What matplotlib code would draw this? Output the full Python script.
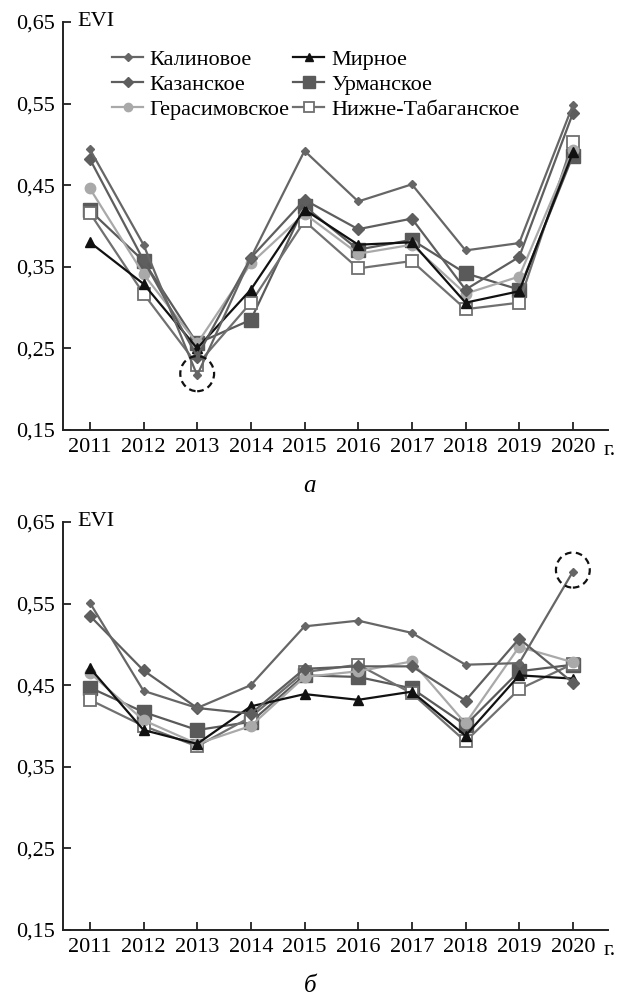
import matplotlib
matplotlib.use("Agg")
import matplotlib.pyplot as plt
from matplotlib.patches import Ellipse

plt.rcParams['font.family'] = ['Liberation Serif', 'DejaVu Serif']

years = [2011, 2012, 2013, 2014, 2015, 2016, 2017, 2018, 2019, 2020]
# legend order, row by row as in the figure
names = ["Калиновое", "Мирное", "Казанское", "Урманское",
         "Герасимовское", "Нижне-Табаганское"]

# panel a
evi_a = {
    "Калиновое":         [0.494, 0.377, 0.217, 0.361, 0.492, 0.430, 0.451, 0.370, 0.379, 0.548],
    "Мирное":            [0.380, 0.329, 0.250, 0.322, 0.420, 0.377, 0.380, 0.306, 0.320, 0.490],
    "Казанское":         [0.482, 0.358, 0.240, 0.361, 0.432, 0.396, 0.409, 0.322, 0.362, 0.538],
    "Урманское":         [0.419, 0.357, 0.256, 0.285, 0.424, 0.371, 0.383, 0.342, 0.322, 0.486],
    "Герасимовское":     [0.446, 0.341, 0.256, 0.354, 0.415, 0.366, 0.377, 0.317, 0.338, 0.493],
    "Нижне-Табаганское": [0.416, 0.317, 0.230, 0.306, 0.406, 0.348, 0.357, 0.298, 0.306, 0.503],
}
# panel b
evi_b = {
    "Калиновое":         [0.551, 0.443, 0.422, 0.450, 0.522, 0.529, 0.514, 0.475, 0.477, 0.589],
    "Мирное":            [0.471, 0.395, 0.378, 0.424, 0.439, 0.432, 0.442, 0.388, 0.462, 0.458],
    "Казанское":         [0.535, 0.468, 0.422, 0.415, 0.470, 0.473, 0.473, 0.431, 0.507, 0.453],
    "Урманское":         [0.447, 0.417, 0.395, 0.405, 0.462, 0.460, 0.446, 0.401, 0.467, 0.475],
    "Герасимовское":     [0.465, 0.407, 0.378, 0.400, 0.460, 0.467, 0.479, 0.403, 0.497, 0.478],
    "Нижне-Табаганское": [0.432, 0.400, 0.375, 0.411, 0.466, 0.475, 0.440, 0.381, 0.445, 0.476],
}
yticks = [0.15, 0.25, 0.35, 0.45, 0.55, 0.65]

styles = {
    "Калиновое":         dict(color="#666666", marker="D", ms=4.5, mfc="#666666", mec="#666666"),
    "Мирное":            dict(color="#111111", marker="^", ms=7, mfc="#111111", mec="#111111"),
    "Казанское":         dict(color="#5e5e5e", marker="D", ms=6, mfc="#5e5e5e", mec="#5e5e5e"),
    "Урманское":         dict(color="#5a5a5a", marker="s", ms=10, mfc="#5a5a5a", mec="#5a5a5a"),
    "Герасимовское":     dict(color="#a9a9a9", marker="o", ms=7.5, mfc="#a9a9a9", mec="#a9a9a9"),
    "Нижне-Табаганское": dict(color="#707070", marker="s", ms=8.5, mfc="white", mec="#707070", mew=1.3),
}
draw_order = ["Урманское", "Нижне-Табаганское", "Герасимовское",
              "Мирное", "Казанское", "Калиновое"]
FS = 16

fig = plt.figure(figsize=(6.19, 9.96), dpi=100)
ax_a = fig.add_axes([0.1018, 0.5683, 0.880, 0.4097])
ax_b = fig.add_axes([0.1018, 0.0663, 0.880, 0.4097])


def draw(ax, data, letter, circle_idx, legend):
    handles = {}
    for z, nm in enumerate(draw_order):
        h, = ax.plot(years, data[nm], lw=1.6, zorder=3 + z, label=nm, **styles[nm])
        handles[nm] = h
    ax.set_xlim(2010.5, 2020.65)
    ax.set_ylim(0.15, 0.65)
    ax.set_yticks(yticks)
    ax.set_yticklabels([f"{v:.2f}".replace(".", ",") for v in yticks])
    ax.set_xticks(years)
    ax.set_xticklabels([str(y) for y in years])
    for s in ("top", "right"):
        ax.spines[s].set_visible(False)
    for s in ("left", "bottom"):
        ax.spines[s].set_linewidth(1.4)
        ax.spines[s].set_color("#222222")
    ax.tick_params(direction="in", length=6, width=1.3, color="#222222",
                   labelsize=FS, pad=6)
    ax.text(0.027, 1.0, "EVI", transform=ax.transAxes, fontsize=FS,
            va="center", ha="left")
    ax.text(0.993, -0.0265, "г.", transform=ax.transAxes, fontsize=FS,
            va="top", ha="left")
    ax.text(0.453, -0.11, letter, transform=ax.transAxes, fontsize=18,
            style="italic", va="top", ha="center")
    xi = years[circle_idx]
    yi = data["Калиновое"][circle_idx]
    ax.add_patch(Ellipse((xi, yi + 0.002), 0.63, 0.043, fill=False, ls=(0, (3, 2)),
                         lw=1.6, color="#111111", zorder=10))
    if legend:
        # matplotlib fills legend columns first, so reorder to read row by row
        order = names[0::2] + names[1::2]
        hs = [handles[n] for n in order]
        ax.legend(hs, order, loc="upper left", bbox_to_anchor=(0.09, 0.933),
                  ncol=2, frameon=False, fontsize=FS, handlelength=1.4,
                  handletextpad=0.3, columnspacing=0.15, labelspacing=0.2,
                  borderaxespad=0, borderpad=0, markerscale=0.8)


draw(ax_a, evi_a, "а", 2, True)
draw(ax_b, evi_b, "б", 9, False)

fig.savefig("out.png", dpi=100)
